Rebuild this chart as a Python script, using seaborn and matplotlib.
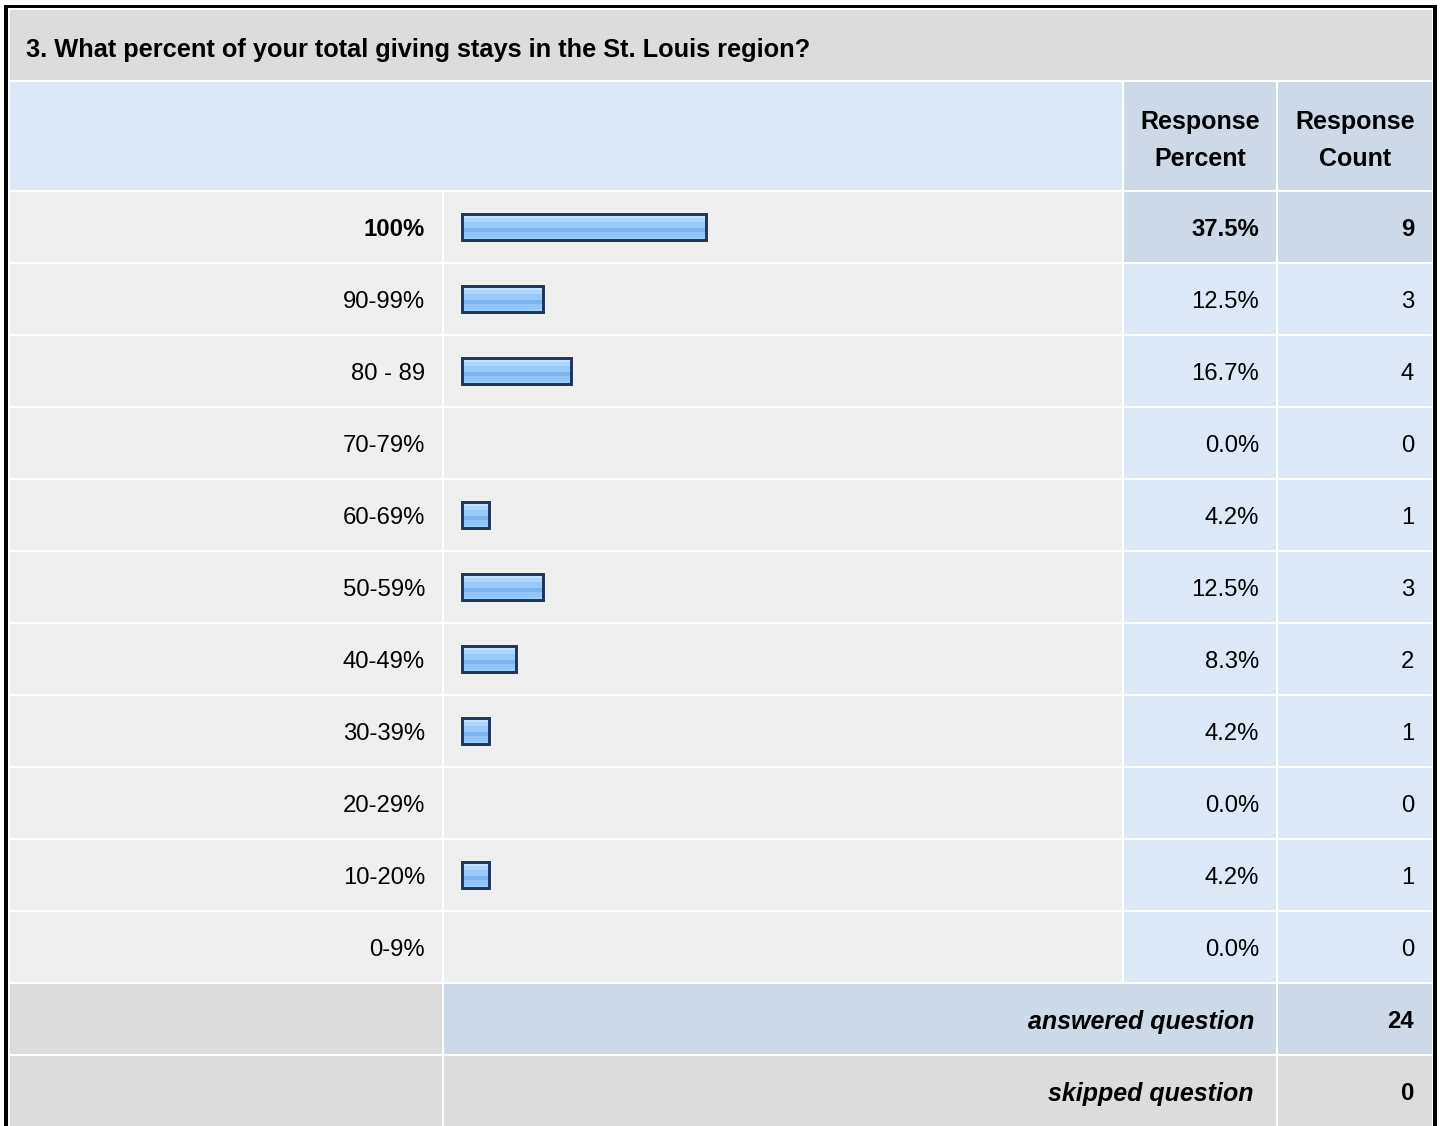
import seaborn as sns
from matplotlib import pyplot as plt
from matplotlib.patches import Rectangle

# survey data
question = "3. What percent of your total giving stays in the St. Louis region?"
labels = ["100%", "90-99%", "80 - 89", "70-79%", "60-69%", "50-59%",
          "40-49%", "30-39%", "20-29%", "10-20%", "0-9%"]
percents = [37.5, 12.5, 16.7, 0.0, 4.2, 12.5, 8.3, 4.2, 0.0, 4.2, 0.0]
counts = [9, 3, 4, 0, 1, 3, 2, 1, 0, 1, 0]
answered = 24
skipped = 0

sns.set_theme(style="white")
plt.rcParams["font.family"] = ["Liberation Sans", "DejaVu Sans"]
plt.rcParams["text.color"] = "black"

W, H = 1440, 1126
fig = plt.figure(figsize=(W / 100, H / 100), dpi=100)
fig.patch.set_facecolor("white")
ax = fig.add_axes([0, 0, 1, 1])
ax.set_xlim(0, W)
ax.set_ylim(H, 0)
ax.axis("off")

GRAY = "#dcdcdc"
ROW = "#efefef"
LBLUE = "#dce8f5"
MBLUE = "#cdd9e6"
FS = 17.2      # numbers and row labels
FS_W = 18.0    # header / footer words
FS_T = 18.3    # question title

cols = [(10, 442), (444, 1122), (1124, 1276), (1278, 1432)]
row_h = 72
top_data = 192


def cell(x0, x1, y0, y1, color):
    ax.add_patch(Rectangle((x0, y0), x1 - x0, y1 - y0, facecolor=color,
                           edgecolor="none", zorder=1))


# outer frame
ax.add_patch(Rectangle((4, 5), 4, H, facecolor="black", edgecolor="none"))
ax.add_patch(Rectangle((4, 5), 1433, 2.5, facecolor="black", edgecolor="none"))
ax.add_patch(Rectangle((1433, 5), 4, H, facecolor="black", edgecolor="none"))

# title row
cell(10, 1432, 10, 80, GRAY)
ax.text(26, 49.5, question, fontsize=FS_T, fontweight="bold", va="center", ha="left")

# header row
cell(10, 1122, 82, 190, LBLUE)
cell(*cols[2], 82, 190, MBLUE)
cell(*cols[3], 82, 190, MBLUE)
for (x0, x1), sub in zip(cols[2:], ["Percent", "Count"]):
    xc = (x0 + x1) / 2 + 0.5
    ax.text(xc, 121.5, "Response", fontsize=FS_W, fontweight="bold", ha="center", va="center")
    ax.text(xc, 158.5, sub, fontsize=FS_W, fontweight="bold", ha="center", va="center")

# data rows
top_i = percents.index(max(percents))
for i, (lab, p, c) in enumerate(zip(labels, percents, counts)):
    y0 = top_data + i * row_h
    y1 = y0 + row_h - 2
    yc = (y0 + y1) / 2 + 2.5
    hi = i == top_i
    side = MBLUE if hi else LBLUE
    cell(*cols[0], y0, y1, ROW)
    cell(*cols[1], y0, y1, ROW)
    cell(*cols[2], y0, y1, side)
    cell(*cols[3], y0, y1, side)
    fw = "bold" if hi else "normal"
    ax.text(425, yc, lab, fontsize=FS, fontweight=fw, ha="right", va="center")
    ax.text(1259, yc, f"{p:.1f}%", fontsize=FS, fontweight=fw, ha="right", va="center")
    ax.text(1414, yc, str(c), fontsize=FS, fontweight=fw, ha="right", va="center")

# footer rows
fy = top_data + len(labels) * row_h
cell(*cols[0], fy, fy + 70, GRAY)
cell(444, 1276, fy, fy + 70, MBLUE)
cell(*cols[3], fy, fy + 70, MBLUE)
cell(*cols[0], fy + 72, H, GRAY)
cell(444, 1276, fy + 72, H, GRAY)
cell(*cols[3], fy + 72, H, GRAY)
for k, (txt, val) in enumerate([("answered question", answered), ("skipped question", skipped)]):
    yc = fy + 35 + k * 72 + 2.5
    ax.text(1254, yc, txt, fontsize=FS_W, fontweight="bold", style="italic", ha="right", va="center")
    ax.text(1414, yc, str(val), fontsize=FS, fontweight="bold", ha="right", va="center")

# bars
bx0, bx1 = 444, 1122
by0, by1 = top_data - 1, fy - 1
bax = fig.add_axes([bx0 / W, 1 - by1 / H, (bx1 - bx0) / W, (by1 - by0) / H])
bax.patch.set_alpha(0)
sns.barplot(x=percents, y=labels, orient="h", ax=bax, color="#99c9fb",
            edgecolor="#1c3558", linewidth=2.1, width=0.37)
px = 6.5
bax.set_xlim((bx0 - 462) / px, (bx1 - 462) / px)
bax.set_ylim(len(labels) - 0.5, -0.5)
bax.axis("off")

bands = [(0.00, 0.16, "#c8e3ff"), (0.16, 0.32, "#acd5ff"), (0.32, 0.52, "#9acafc"),
         (0.52, 0.70, "#7db4ef"), (0.70, 0.86, "#92c5f8"), (0.86, 1.00, "#9fcefd")]
for p in list(bax.patches):
    w = p.get_width()
    if w <= 0:
        p.set_visible(False)
        continue
    x, y, h = p.get_x(), p.get_y(), p.get_height()
    for f0, f1, col in bands:
        bax.add_patch(Rectangle((x, y + f0 * h), w, (f1 - f0) * h,
                                facecolor=col, edgecolor="none", zorder=2))
    p.set_facecolor("none")
    p.set_zorder(3)

fig.savefig("out.png", dpi=100)
